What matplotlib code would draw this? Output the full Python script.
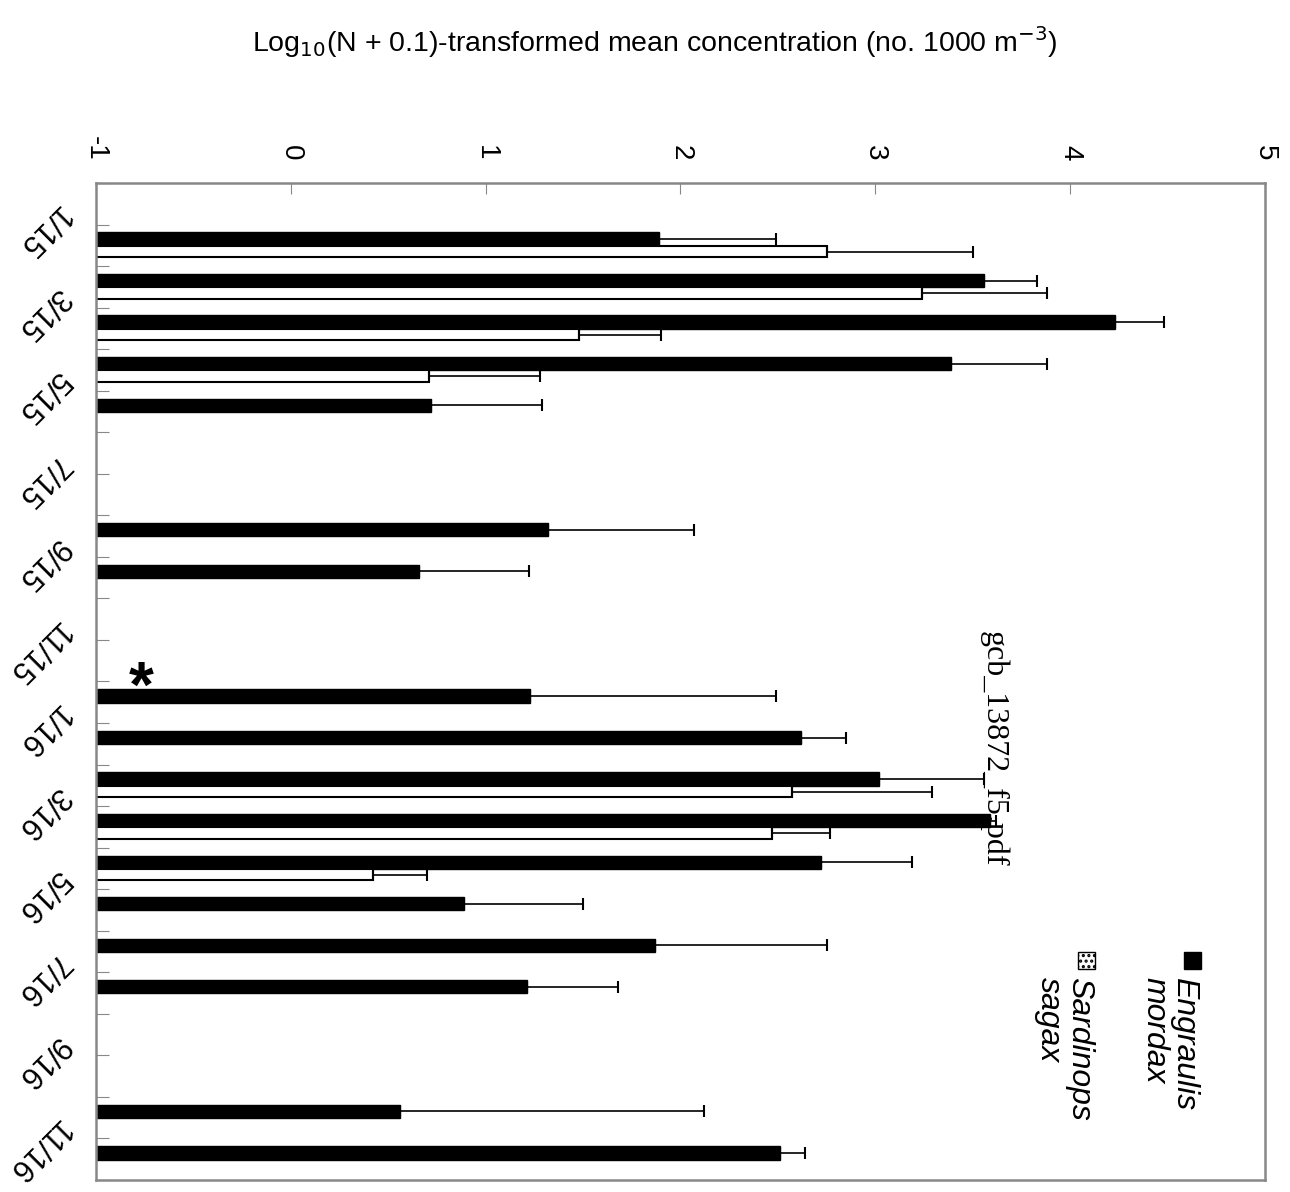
import matplotlib
matplotlib.use("Agg")
import matplotlib.pyplot as plt
import numpy as np
from matplotlib.patches import Rectangle

plt.rcParams['font.family'] = ['Liberation Sans', 'DejaVu Sans']
plt.rcParams['hatch.linewidth'] = 1.5

# months from 12/14 to 11/16 (24 categories), label shown every other month
meses = ['12/14', '1/15', '2/15', '3/15', '4/15', '5/15', '6/15', '7/15', '8/15', '9/15',
         '10/15', '11/15', '12/15', '1/16', '2/16', '3/16', '4/16', '5/16', '6/16', '7/16',
         '8/16', '9/16', '10/16', '11/16']
rotulos = ['1/15', '3/15', '5/15', '7/15', '9/15', '11/15',
           '1/16', '3/16', '5/16', '7/16', '9/16', '11/16']

nan = np.nan
# Engraulis mordax: mean and upper error end
anchova = [nan, 1.89, 3.56, 4.23, 3.39, 0.72, nan, nan, 1.32, 0.66, nan, nan,
           1.23, 2.62, 3.02, 3.59, 2.72, 0.89, 1.87, 1.21, nan, nan, 0.56, 2.51]
anchova_sup = [nan, 2.49, 3.83, 4.48, 3.88, 1.29, nan, nan, 2.07, 1.22, nan, nan,
               2.49, 2.85, 3.56, 3.62, 3.19, 1.50, 2.75, 1.68, nan, nan, 2.12, 2.64]
# Sardinops sagax
sardinha = [nan, 2.75, 3.24, 1.48, 0.71, nan, nan, nan, nan, nan, nan, nan,
            nan, nan, 2.57, 2.47, 0.42, nan, nan, nan, nan, nan, nan, nan]
sardinha_sup = [nan, 3.50, 3.88, 1.90, 1.28, nan, nan, nan, nan, nan, nan, nan,
                nan, nan, 3.29, 2.77, 0.70, nan, nan, nan, nan, nan, nan, nan]

base = -1
pos = np.arange(len(meses))
anchova = np.array(anchova)
sardinha = np.array(sardinha)
err_a = np.array(anchova_sup) - anchova
err_s = np.array(sardinha_sup) - sardinha

fig = plt.figure(figsize=(12.9, 11.92), dpi=100)
ax = fig.add_axes([0.0744, 0.0101, 0.9062, 0.8364])

ax.barh(pos - 0.15, anchova - base, left=base, height=0.32, color='black',
        edgecolor='black', linewidth=1)
ax.barh(pos + 0.15, sardinha - base, left=base, height=0.28, color='white',
        edgecolor='black', linewidth=1.5)

ax.errorbar(anchova, pos - 0.15, xerr=[np.zeros_like(err_a), err_a], fmt='none',
            ecolor='black', elinewidth=1.2, capsize=4, capthick=1.5)
ax.errorbar(sardinha, pos + 0.15, xerr=[np.zeros_like(err_s), err_s], fmt='none',
            ecolor='black', elinewidth=1.2, capsize=4, capthick=1.5)

ax.set_xlim(-1, 5)
ax.set_ylim(len(meses) - 0.5, -0.5)

# value axis on top, labels rotated like the turned page
ax.xaxis.tick_top()
ax.set_xticks(range(-1, 6))
ax.set_xticklabels([str(v) for v in range(-1, 6)], rotation=-90, fontsize=20)
ax.tick_params(axis='x', direction='in', length=8, color='#888888', pad=16)

# category ticks at band boundaries
ax.set_yticks(np.arange(len(meses) + 1) - 0.5)
ax.set_yticklabels([])
ax.tick_params(axis='y', direction='in', length=9, color='#888888')
for m in rotulos:
    i = meses.index(m)
    ax.text(-0.028, i - 0.85, m, transform=ax.get_yaxis_transform(), rotation=225,
            rotation_mode='anchor', ha='left', va='center', fontsize=22)

for s in ax.spines.values():
    s.set_color('#888888')
    s.set_linewidth(1.8)

fig.text(0.508, 0.965, 'Log$_{10}$(N + 0.1)-transformed mean concentration (no. 1000 m$^{-3}$)',
         ha='center', va='center', fontsize=20.5)

# asterisk above 12/15
ax.text(-0.77, meses.index('12/15') - 0.3, '*', ha='center', va='center',
        fontsize=46, fontweight='bold')

# legend (rotated)
ax.add_patch(Rectangle((0.931, 0.212), 0.0145, 0.017, transform=ax.transAxes,
                       facecolor='black', edgecolor='black', clip_on=False))
ax.add_patch(Rectangle((0.840, 0.212), 0.0145, 0.017, transform=ax.transAxes,
                       facecolor='white', edgecolor='black', hatch='...', clip_on=False))
ax.text(0.918, 0.204, 'Engraulis\nmordax', transform=ax.transAxes, rotation=-90,
        rotation_mode='anchor', ha='left', va='center', fontsize=23, style='italic',
        linespacing=1.0)
ax.text(0.828, 0.204, 'Sardinops\nsagax', transform=ax.transAxes, rotation=-90,
        rotation_mode='anchor', ha='left', va='center', fontsize=23, style='italic',
        linespacing=1.0)

# watermark
fig.text(0.770, 0.372, 'gcb_13872_f5.pdf', rotation=-90, ha='center', va='center',
         fontsize=23, family=['Liberation Serif', 'DejaVu Serif'])

plt.savefig('out.png', dpi=100)
